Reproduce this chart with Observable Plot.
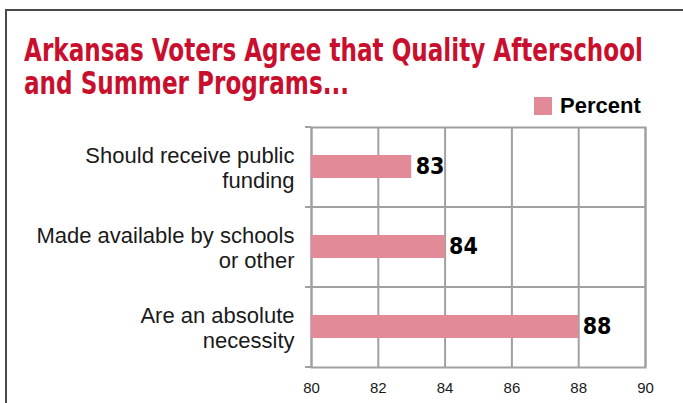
<!DOCTYPE html>
<html>
<head>
<meta charset="utf-8">
<script src="https://cdn.jsdelivr.net/npm/d3@7"></script>
<script src="https://cdn.jsdelivr.net/npm/@observablehq/plot@0.6"></script>
<style>
  html, body { margin: 0; padding: 0; background: #fff; }
  #wrap { position: relative; width: 683px; height: 403px; overflow: hidden; }
  #frame { position: absolute; left: 5px; top: 9px; width: 720px; height: 450px;
           border-left: 2px solid #4a4a4a; border-top: 2px solid #4a4a4a; }
  #title { position: absolute; left: 24px; top: 34px; margin: 0;
           font-family: "DejaVu Sans Condensed", "DejaVu Sans", sans-serif;
           font-weight: bold; font-size: 32px; line-height: 33px; color: #c8102e;
           white-space: nowrap; transform-origin: 0 0; }
  #title span { display: block; width: max-content; }
  #legend { position: absolute; left: 534px; top: 96px; height: 20px;
            font-family: "Liberation Sans", Arial, sans-serif; font-weight: bold;
            font-size: 22px; line-height: 20px; color: #000; white-space: nowrap; }
  #legend .sw { display: inline-block; width: 18px; height: 18px; background: #e38a98;
                vertical-align: top; margin-top: 1px; margin-right: 8px; }
  #chart { position: absolute; left: 0; top: 115px; }
</style>
</head>
<body>
<div id="wrap">
  <div id="frame"></div>
  <div id="title"><span id="t1">Arkansas Voters Agree that Quality Afterschool</span><span id="t2">and Summer Programs...</span></div>
  <div id="legend"><span class="sw"></span>Percent</div>
  <div id="chart"></div>
</div>
<script>
const categories = ["Should receive public funding", "Made available by schools or other", "Are an absolute necessity"];
const categoryLabels = ["Should receive public\nfunding", "Made available by schools\nor other", "Are an absolute\nnecessity"];
const percentValues = [83, 84, 88];
const xTicks = [80, 82, 84, 86, 88, 90];
const seriesName = "Percent";

// fit the condensed title to the reference's line width
(function fitTitle() {
  const t = document.getElementById("title");
  const w = document.getElementById("t1").getBoundingClientRect().width;
  const target = 619;
  if (w > 0) t.style.transform = "scaleX(" + (target / w) + ")";
})();

const rows = categories.map((c, i) => ({category: c, label: categoryLabels[i], value: percentValues[i]}));
const gridColor = "#a0a0a0";
const barColor = "#e38a98";
const xDomain = [xTicks[0], xTicks[xTicks.length - 1]];

const W = 683, H = 288, mt = 12, mb = 36, ml = 311, mr = 38;
const step = (H - mt - mb) / categories.length;

const plot = Plot.plot({
  width: W,
  height: H,
  marginTop: mt,
  marginBottom: mb,
  marginLeft: ml,
  marginRight: mr,
  style: {fontFamily: "Liberation Sans, Arial, sans-serif", background: "transparent", color: "#000"},
  x: {domain: xDomain, ticks: xTicks, label: null},
  y: {domain: categories, paddingInner: 0.71, paddingOuter: 0.355, label: null, axis: null},
  marks: [
    Plot.ruleX(xTicks, {stroke: gridColor, strokeWidth: 2}),
    Plot.ruleY(categories.slice(1), {y: d => d, dy: -step / 2, stroke: gridColor, strokeWidth: 2}),
    Plot.frame({stroke: gridColor, strokeWidth: 2}),
    Plot.ruleY(categories, {y: d => d, dy: -step / 2, x1: xDomain[0], x2: xDomain[0], insetLeft: -6, stroke: gridColor, strokeWidth: 2}),
    Plot.ruleY(categories.slice(-1), {y: d => d, dy: step / 2, x1: xDomain[0], x2: xDomain[0], insetLeft: -6, stroke: gridColor, strokeWidth: 2}),
    Plot.barX(rows, {x1: xDomain[0], x2: "value", y: "category", fill: barColor}),
    Plot.text(rows, {x: "value", y: "category", text: d => String(d.value), dx: 4, textAnchor: "start",
      fontFamily: "DejaVu Sans Condensed, DejaVu Sans, sans-serif", fontWeight: "bold", fontSize: 23, fill: "#000"}),
    Plot.text(rows, {y: "category", text: "label", frameAnchor: "left", dx: -17, textAnchor: "end",
      lineHeight: 1.14, fontSize: 22, fill: "#1a1a1a"}),
    Plot.axisX({ticks: xTicks, tickSize: 0, tickPadding: 15, fontSize: 15, fill: "#1a1a1a", tickFormat: d => String(d)})
  ]
});
document.getElementById("chart").appendChild(plot);
</script>
</body>
</html>
